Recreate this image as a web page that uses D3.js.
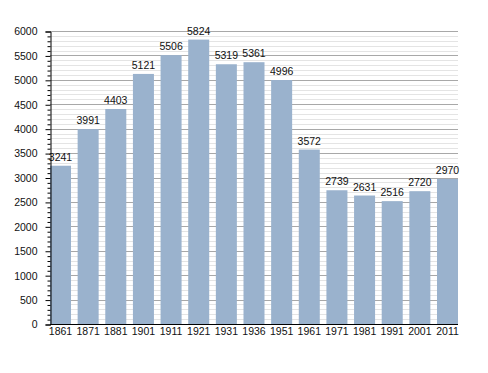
<!DOCTYPE html>
<html lang="en">
  <head>
    <meta charset="UTF-8" />
    <title>population</title>
    <script src="https://d3js.org/d3.v7.min.js" charset="utf-8"></script>
    <style>
      body { margin: 0; background: #fff; }
      text { font-family: "Liberation Sans", Arial, sans-serif; font-size: 10.5px; fill: #111; }
    </style>
  </head>
  <body>
    <div id="chart"></div>
    <script>
      const years = ["1861", "1871", "1881", "1901", "1911", "1921", "1931", "1936",
                     "1951", "1961", "1971", "1981", "1991", "2001", "2011"];
      const population = [3241, 3991, 4403, 5121, 5506, 5824, 5319, 5361,
                          4996, 3572, 2739, 2631, 2516, 2720, 2970];
      const majorTicks = [0, 500, 1000, 1500, 2000, 2500, 3000, 3500, 4000, 4500, 5000, 5500, 6000];

      const width = 488, height = 373;
      const plotLeft = 50, plotRight = 458, plotTop = 31, plotBottom = 324;

      const svg = d3.select("#chart").append("svg")
        .attr("width", width)
        .attr("height", height);

      const x = d3.scaleBand()
        .domain(years)
        .range([plotLeft, plotRight])
        .paddingInner(0.24)
        .paddingOuter(0);

      const y = d3.scaleLinear()
        .domain([0, 6000])
        .range([plotBottom, plotTop]);

      const minor = d3.range(100, 6000, 100).filter(d => d % 500 !== 0);

      // minor grid
      svg.append("g").selectAll("line")
        .data(minor)
        .join("line")
        .attr("x1", plotLeft).attr("x2", plotRight)
        .attr("y1", d => Math.round(y(d)) + 0.5)
        .attr("y2", d => Math.round(y(d)) + 0.5)
        .attr("stroke", "#e4e4e4");

      // major grid
      svg.append("g").selectAll("line")
        .data(majorTicks.filter(d => d > 0))
        .join("line")
        .attr("x1", plotLeft).attr("x2", plotRight)
        .attr("y1", d => Math.round(y(d)) + 0.5)
        .attr("y2", d => Math.round(y(d)) + 0.5)
        .attr("stroke", "#a8a8a8");

      // bars
      svg.append("g").selectAll("rect")
        .data(population)
        .join("rect")
        .attr("x", (d, i) => x(years[i]))
        .attr("width", x.bandwidth())
        .attr("y", d => y(d))
        .attr("height", d => y(0) - y(d))
        .attr("fill", "#9ab2cd");

      // value labels
      svg.append("g").selectAll("text")
        .data(population)
        .join("text")
        .attr("x", (d, i) => x(years[i]) + x.bandwidth() / 2)
        .attr("y", d => y(d) - 5)
        .attr("text-anchor", "middle")
        .text(d => d);

      // y axis
      const yAxis = d3.axisLeft(y).tickValues(majorTicks).tickFormat(d3.format("d"))
        .tickSize(5).tickPadding(8);
      const ga = svg.append("g")
        .attr("transform", `translate(${plotLeft + 0.5},0.5)`)
        .call(yAxis);
      ga.select(".domain").attr("stroke", "#000");
      ga.selectAll("text").style("font-size", "10.5px").attr("fill", "#111");

      svg.append("g")
        .attr("transform", `translate(${plotLeft + 0.5},0.5)`)
        .call(d3.axisLeft(y).tickValues(minor).tickSize(3).tickFormat(""))
        .call(g => g.select(".domain").remove());

      // x axis
      const gx = svg.append("g")
        .attr("transform", `translate(0,${plotBottom + 0.5})`)
        .call(d3.axisBottom(x).tickSize(0).tickPadding(3));
      gx.select(".domain").attr("stroke", "#000").attr("d", `M${plotLeft},0H${plotRight}`);
      gx.selectAll("text").style("font-size", "10.5px").attr("fill", "#111");
    </script>
  </body>
</html>
